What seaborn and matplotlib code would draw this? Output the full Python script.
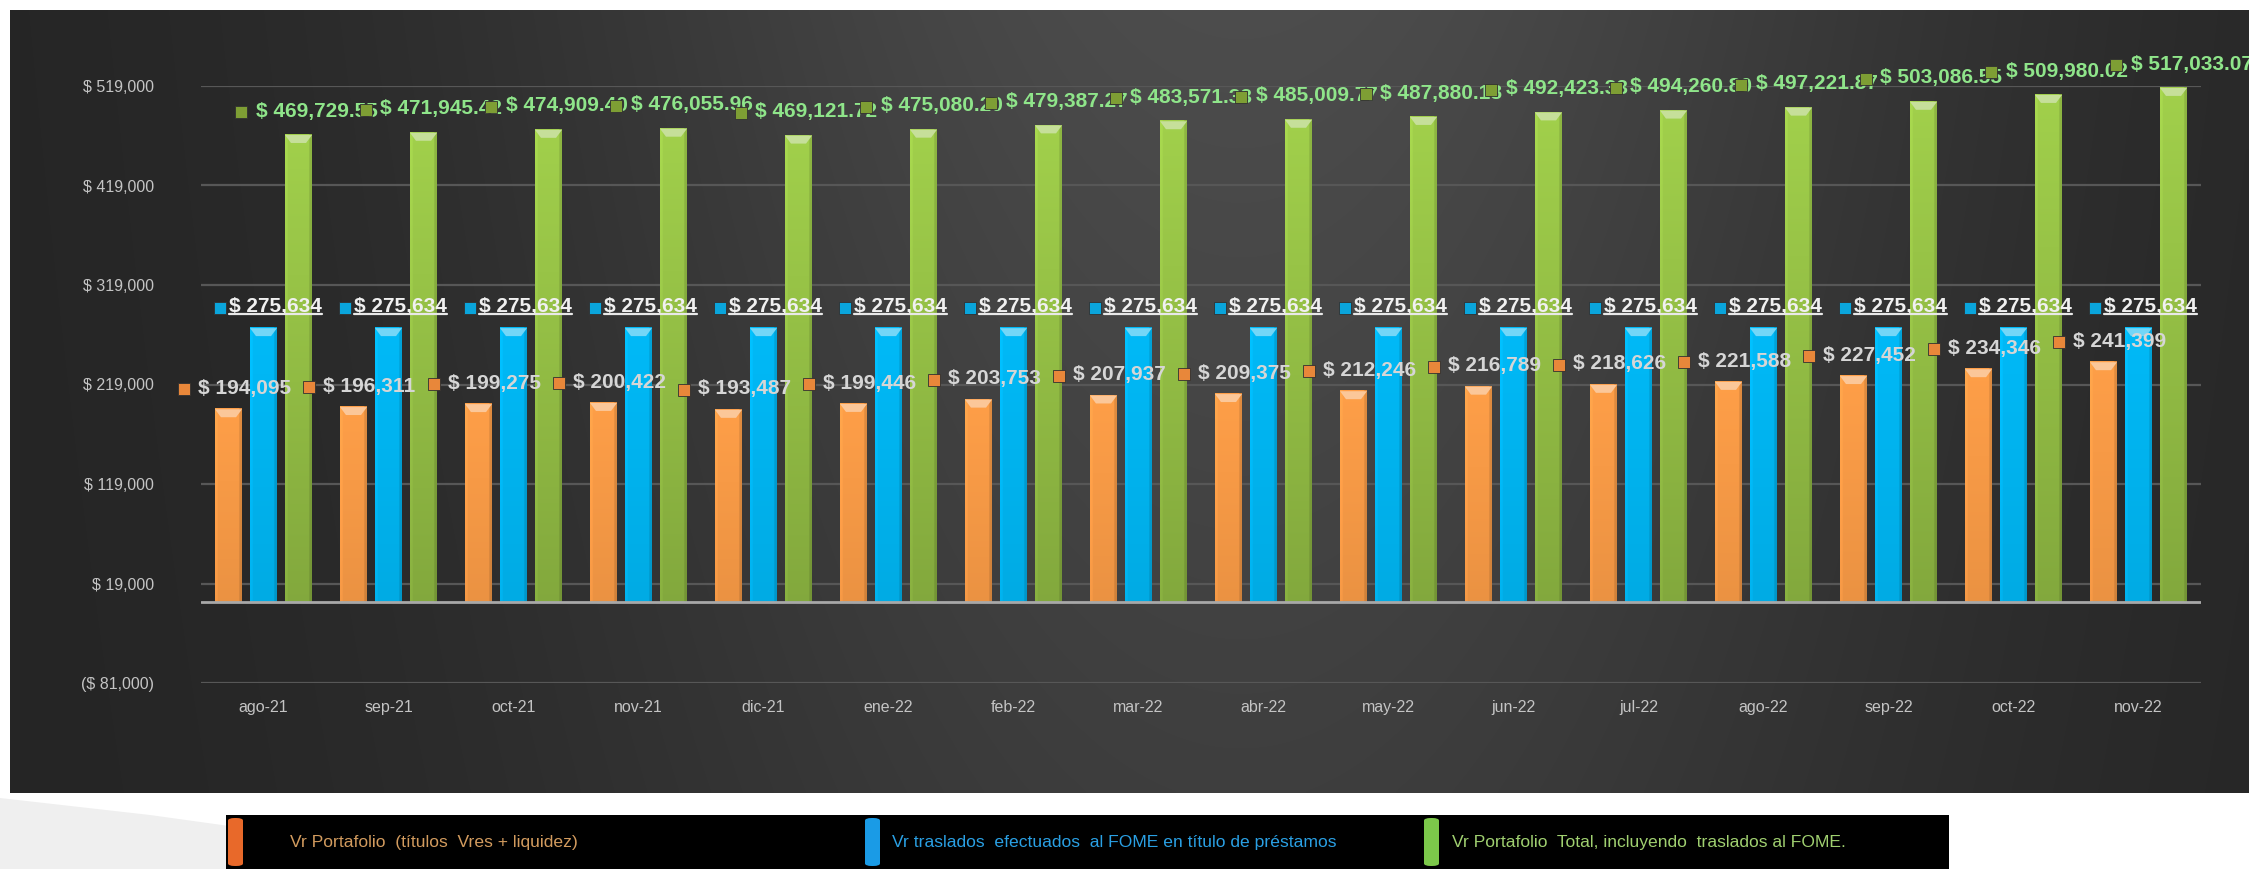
import numpy as np
import pandas as pd
import matplotlib
matplotlib.use('Agg')
import matplotlib.pyplot as plt
import seaborn as sns
from matplotlib.patches import Polygon, Rectangle, FancyBboxPatch
from matplotlib.ticker import FuncFormatter, FixedLocator
from matplotlib.transforms import ScaledTranslation, IdentityTransform
from matplotlib.lines import Line2D
from matplotlib.colors import to_rgb

# datos
meses = ['ago-21', 'sep-21', 'oct-21', 'nov-21', 'dic-21', 'ene-22', 'feb-22', 'mar-22',
         'abr-22', 'may-22', 'jun-22', 'jul-22', 'ago-22', 'sep-22', 'oct-22', 'nov-22']
portafolio = [194095, 196311, 199275, 200422, 193487, 199446, 203753, 207937,
              209375, 212246, 216789, 218626, 221588, 227452, 234346, 241399]
traslados = [275634, 275634, 275634, 275634, 275634, 275634, 275634, 275634,
             275634, 275634, 275634, 275634, 275634, 275634, 275634, 275634]
total = [469729.55, 471945.42, 474909.40, 476055.96, 469121.72, 475080.20, 479387.27, 483571.33,
         485009.77, 487880.18, 492423.33, 494260.80, 497221.87, 503086.55, 509980.02, 517033.07]
series = ['Vr Portafolio  (títulos  Vres + liquidez)',
          'Vr traslados  efectuados  al FOME en título de préstamos',
          'Vr Portafolio  Total, incluyendo  traslados al FOME.']
yticks = [-81000, 19000, 119000, 219000, 319000, 419000, 519000]

colores = ['#F79A46', '#00B4F0', '#98C447']
marcas = ['#E8873A', '#0AA5DC', '#7E9E34']
txt_col = ['#D6D6D6', '#F0F0F0', '#8FE58A']
leg_patch = ['#E8692A', '#1A9BE6', '#7CC84A']
leg_txt = ['#D29B5E', '#2AA0E4', '#A0D070']

sns.set_style('dark')
plt.rcParams['font.family'] = ['Liberation Sans', 'DejaVu Sans']

W, H = 2249, 869
fig = plt.figure(figsize=(W / 100, H / 100), dpi=100, facecolor='white')


def fx(px):
    return px / W


def fy(py):
    return 1 - py / H


# fondo blanco con mancha gris abajo a la izquierda
fig.patches.append(Polygon([(0, fy(798)), (fx(150), fy(815)), (fx(330), fy(840)), (fx(470), fy(869)),
                            (0, fy(869))],
                           transform=fig.transFigure, facecolor='#efefef', edgecolor='none', zorder=0))

# panel oscuro con degradado
bg = fig.add_axes([fx(10), fy(793), 1 - fx(10), (793 - 10) / H])
gx = np.linspace(0, 1, 400)[None, :]
gy = np.linspace(0, 1, 200)[:, None]
lum = 0.14 + 0.16 * np.exp(-((gx - 0.55) / 0.32) ** 2) * (1 - 0.35 * gy)
bg.imshow(np.dstack([lum, lum, lum]), aspect='auto', interpolation='bilinear', extent=[0, 1, 0, 1])
bg.set_axis_off()

# grafico principal
ax = fig.add_axes([fx(201), fy(683), 2000 / W, (683 - 86) / H])
ax.set_zorder(2)
ax.patch.set_alpha(0)

df = pd.DataFrame({
    'mes': meses * 3,
    'valor': portafolio + traslados + total,
    'serie': [series[0]] * 16 + [series[1]] * 16 + [series[2]] * 16,
})
sns.barplot(data=df, x='mes', y='valor', hue='serie', hue_order=series, palette=colores,
            width=0.84, gap=0.23, saturation=1, legend=False, errorbar=None,
            linewidth=0, ax=ax)

# efecto biselado en las barras
for i, cont in enumerate(ax.containers):
    base = np.array(to_rgb(colores[i]))
    for bar in cont:
        x0, w, h = bar.get_x(), bar.get_width(), bar.get_height()
        u = np.linspace(0, 1, 40)[None, :]
        v = np.linspace(0, 1, 100)[:, None]
        sh = np.where(u < 0.08, 1.05, np.where(u > 0.9, 0.88, 1.0))
        vert = (1.06 - 0.2 * v) if i == 2 else (1.03 - 0.08 * v)
        img = np.clip(base[None, None, :] * (sh * vert)[:, :, None], 0, 1)
        ax.imshow(img, extent=[x0, x0 + w, 0, h], aspect='auto', interpolation='bilinear', zorder=2)
        cap = 8000
        light = base + (1 - base) * 0.45
        ax.add_patch(Polygon([(x0, h), (x0 + w, h), (x0 + w * 0.78, h - cap), (x0 + w * 0.22, h - cap)],
                             facecolor=light, edgecolor='none', zorder=3))

ax.set_xlim(-0.5, 15.5)
ax.set_ylim(-81000, 519000)
ax.yaxis.set_major_locator(FixedLocator(yticks))


def fmt(val, pos):
    if val < 0:
        return f'($ {abs(val):,.0f})'
    return f'$ {val:,.0f}'


ax.yaxis.set_major_formatter(FuncFormatter(fmt))
ax.grid(axis='y', color='#575757', linewidth=1.6, zorder=0)
ax.grid(axis='x', visible=False)
ax.axhline(0, color='#a8a8a8', linewidth=2, zorder=4)
for s in ax.spines.values():
    s.set_visible(False)
ax.tick_params(axis='y', length=0, pad=34, labelsize=11.5, labelcolor='#c4c4c4')
ax.tick_params(axis='x', length=0, pad=12, labelsize=11.5, labelcolor='#c4c4c4')
ax.set_xlabel('')
ax.set_ylabel('')

# etiquetas de datos
dx_txt = [16, 12, 18]
dx_mark = [-45, -44, -58]
dy_val = [21000, 21500, 24000]
etiquetas_azules = []
for i, cont in enumerate(ax.containers):
    for j, bar in enumerate(cont):
        xc = bar.get_x() + bar.get_width() / 2
        v = bar.get_height()
        yl = v + dy_val[i]
        lab = f'$ {v:,.2f}' if i == 2 else f'$ {v:,.0f}'
        t = ax.annotate(lab, xy=(xc, yl), xytext=(dx_txt[i] * 0.72, 0), textcoords='offset points',
                        ha='center', va='center', fontsize=15, fontweight='bold',
                        color=txt_col[i], zorder=6, annotation_clip=False)
        if i == 1:
            etiquetas_azules.append(t)
        tr = ax.transData + ScaledTranslation(dx_mark[i] / 100, -1 / 100, fig.dpi_scale_trans)
        ax.plot([xc], [yl], marker='s', markersize=8, color=marcas[i], markeredgecolor='#303030',
                markeredgewidth=0.6, transform=tr, clip_on=False, zorder=7)

# leyenda
fig.patches.append(Rectangle((fx(226), 0), fx(1949) - fx(226), fy(815), transform=fig.transFigure,
                             facecolor='black', edgecolor='none', zorder=1))
leg_x = [228, 865, 1424]
txt_x = [290, 892, 1452]
for k in range(3):
    fig.patches.append(FancyBboxPatch((fx(leg_x[k]), fy(866)), 15 / W, (866 - 818) / H,
                                      boxstyle='round,pad=0,rounding_size=0.003',
                                      transform=fig.transFigure, facecolor=leg_patch[k],
                                      edgecolor='none', zorder=2))
    fig.text(fx(txt_x[k]), fy(842), series[k], color=leg_txt[k], fontsize=12.6,
             ha='left', va='center', zorder=3)

# subrayado de las etiquetas azules
fig.canvas.draw()
for t in etiquetas_azules:
    bb = t.get_window_extent()
    fig.add_artist(Line2D([bb.x0, bb.x1], [bb.y0 + 2, bb.y0 + 2], transform=IdentityTransform(),
                          color='#E8E8E8', linewidth=1.6, zorder=8))

fig.savefig('out.png', dpi=100, facecolor=fig.get_facecolor())
